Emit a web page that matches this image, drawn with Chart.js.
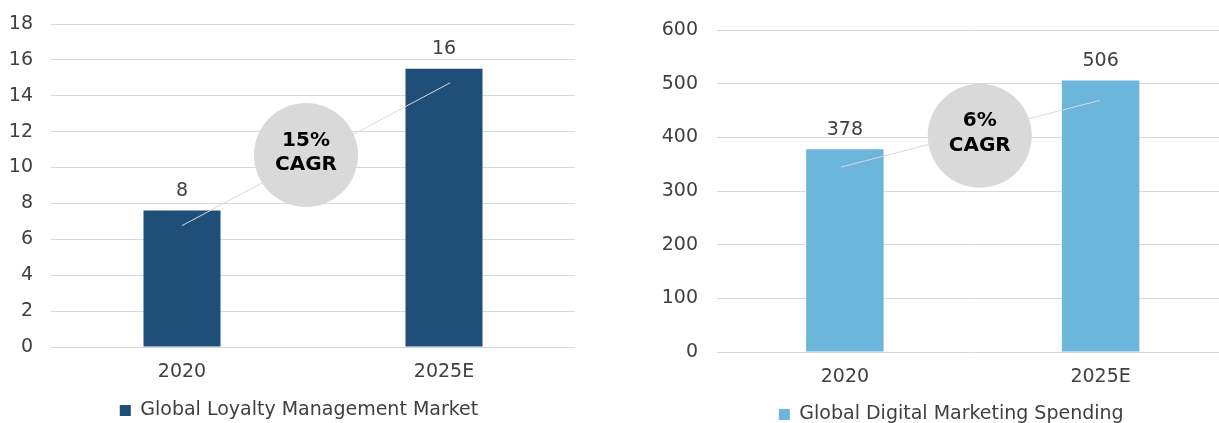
<!DOCTYPE html>
<html>
<head>
<meta charset="utf-8">
<script src="https://cdn.jsdelivr.net/npm/chart.js@4.4.1/dist/chart.umd.min.js"></script>
<style>
  html, body { margin: 0; padding: 0; background: #fff; overflow: hidden; width: 1219px; height: 423px; }
  .panel { position: absolute; top: 0; height: 423px; }
  #loyaltyWrap { left: 0; width: 600px; }
  #spendWrap { left: 620px; width: 620px; }
</style>
</head>
<body>
<div class="panel" id="loyaltyWrap"><canvas id="loyaltyChart"></canvas></div>
<div class="panel" id="spendWrap"><canvas id="spendChart"></canvas></div>
<script>
// --- Data ---
const years = ['2020', '2025E'];
const loyaltyValues = [7.6, 15.5];
const spendValues = [378, 506];
const loyaltyTicks = [0, 2, 4, 6, 8, 10, 12, 14, 16, 18];
const spendTicks = [0, 100, 200, 300, 400, 500, 600];
const loyaltyCagr = ['15%', 'CAGR'];
const spendCagr = ['6%', 'CAGR'];

const FONT = "'DejaVu Sans', Verdana, sans-serif";
const TEXT = '#404040';

// value labels above each bar
const valueLabels = {
    id: 'valueLabels',
    afterDatasetsDraw(chart, args, opts) {
        const ctx = chart.ctx;
        const meta = chart.getDatasetMeta(0);
        const data = chart.data.datasets[0].data;
        ctx.save();
        ctx.font = '19px ' + FONT;
        ctx.fillStyle = TEXT;
        ctx.textAlign = 'center';
        ctx.textBaseline = 'middle';
        meta.data.forEach((bar, i) => {
            ctx.fillText(String(Math.round(data[i])), bar.x, bar.y - opts.offset);
        });
        ctx.restore();
    }
};

// growth line between the bars with the CAGR bubble on top
const cagrBubble = {
    id: 'cagrBubble',
    afterDatasetsDraw(chart, args, opts) {
        const ctx = chart.ctx;
        const bars = chart.getDatasetMeta(0).data;
        const y = chart.scales.y;
        ctx.save();
        ctx.strokeStyle = '#d9d9d9';
        ctx.lineWidth = 1;
        ctx.beginPath();
        ctx.moveTo(bars[0].x + opts.startDx, bars[0].y + opts.drop[0]);
        ctx.lineTo(bars[1].x + opts.endDx, bars[1].y + opts.drop[1]);
        ctx.stroke();

        const cx = (bars[0].x + bars[1].x) / 2 + opts.dx;
        const cy = y.getPixelForValue(opts.value);
        ctx.fillStyle = '#d9d9d9';
        ctx.beginPath();
        ctx.arc(cx, cy, opts.radius, 0, Math.PI * 2);
        ctx.fill();

        ctx.fillStyle = '#000';
        ctx.font = 'bold 20px ' + FONT;
        ctx.textAlign = 'center';
        ctx.textBaseline = 'middle';
        ctx.fillText(opts.text[0], cx, cy + opts.lineOffsets[0]);
        ctx.fillText(opts.text[1], cx, cy + opts.lineOffsets[1]);
        ctx.restore();
    }
};

// nudge the legend sideways so it sits under the whole panel, not just the plot
const legendShift = {
    id: 'legendShift',
    afterLayout(chart, args, opts) {
        if (chart.legend) {
            chart.legend.left += opts.dx;
            chart.legend.right += opts.dx;
        }
    }
};

function buildChart(id, values, ticks, color, seriesName, cfg) {
    return new Chart(document.getElementById(id), {
        type: 'bar',
        data: {
            labels: years,
            datasets: [{
                label: seriesName,
                data: values,
                backgroundColor: color,
                borderWidth: 0,
                barPercentage: cfg.barPct,
                categoryPercentage: 1
            }]
        },
        options: {
            responsive: true,
            maintainAspectRatio: false,
            animation: false,
            layout: { padding: cfg.padding },
            scales: {
                x: {
                    grid: { display: false },
                    border: { display: false },
                    ticks: { color: TEXT, font: { family: FONT, size: 19 }, padding: cfg.xPad },
                    afterFit: s => { s.height = cfg.xHeight; }
                },
                y: {
                    min: ticks[0],
                    max: ticks[ticks.length - 1],
                    grid: { color: '#d9d9d9', lineWidth: 1, drawTicks: false },
                    border: { display: false },
                    ticks: { color: TEXT, font: { family: FONT, size: 19 }, padding: cfg.yPad },
                    afterBuildTicks: s => { s.ticks = ticks.map(v => ({ value: v })); },
                    // fixed gutter; no extra room reserved for the end labels
                    afterFit: s => { s.width = cfg.yWidth; s.paddingTop = 0; s.paddingBottom = 0; }
                }
            },
            plugins: {
                legend: {
                    position: 'bottom',
                    labels: {
                        boxWidth: 11,
                        boxHeight: 11,
                        color: TEXT,
                        font: { family: FONT, size: 19 },
                        padding: 10
                    }
                },
                tooltip: { enabled: false },
                valueLabels: { offset: cfg.labelOffset },
                cagrBubble: cfg.bubble,
                legendShift: { dx: cfg.legendDx }
            }
        },
        plugins: [valueLabels, cagrBubble, legendShift]
    });
}

buildChart('loyaltyChart', loyaltyValues, loyaltyTicks, '#1F4E79', 'Global Loyalty Management Market', {
    barPct: 0.294,
    padding: { top: 24, left: 0, right: 25, bottom: -7 },
    yWidth: 51, yPad: 18,
    xHeight: 44, xPad: 6,
    legendDx: 11.5,
    labelOffset: 20,
    bubble: { value: 10.7, dx: -7, radius: 52, startDx: 0, endDx: 6, drop: [15, 14],
              text: loyaltyCagr, lineOffsets: [-14, 10] }
});

buildChart('spendChart', spendValues, spendTicks, '#6DB6DB', 'Global Digital Marketing Spending', {
    barPct: 0.303,
    padding: { top: 30, left: 0, right: 11.5, bottom: -11 },
    yWidth: 97, yPad: 19,
    xHeight: 43, xPad: 6,
    legendDx: 27,
    labelOffset: 19,
    bubble: { value: 403, dx: 7, radius: 52, startDx: -4, endDx: -1, drop: [18, 20],
              text: spendCagr, lineOffsets: [-15, 10] }
});
</script>
</body>
</html>
